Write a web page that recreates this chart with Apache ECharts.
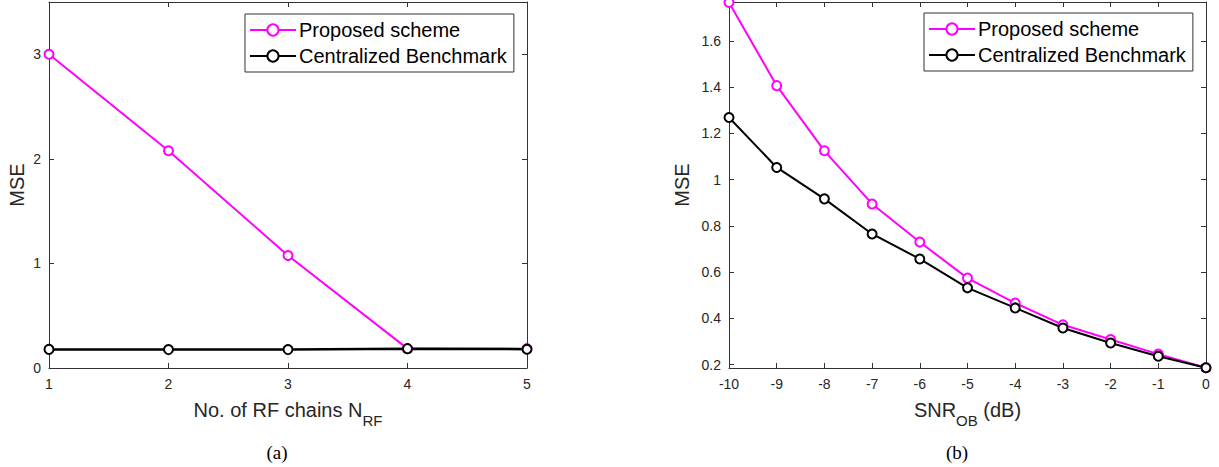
<!DOCTYPE html>
<html>
<head>
<meta charset="utf-8">
<script src="https://cdn.jsdelivr.net/npm/echarts@6/dist/echarts.min.js"></script>
<style>
  html, body { margin: 0; padding: 0; background: #fff; }
  #chart { width: 1219px; height: 467px; }
</style>
</head>
<body>
<div id="chart"></div>
<script>
// ---------- data ----------
const seriesNames = ['Proposed scheme', 'Centralized Benchmark'];

// (a) MSE vs number of RF chains
const rfChains = [1, 2, 3, 4, 5];
const proposedA = [3.0, 2.077, 1.075, 0.185, 0.183];
const benchmarkA = [0.178, 0.176, 0.176, 0.185, 0.180];
const yTicksA = [0, 1, 2, 3];

// (b) MSE vs SNR_OB (dB)
const snrOB = [-10, -9, -8, -7, -6, -5, -4, -3, -2, -1, 0];
const proposedB = [1.767, 1.407, 1.125, 0.895, 0.730, 0.574, 0.466, 0.372, 0.308, 0.245, 0.186];
const benchmarkB = [1.269, 1.053, 0.917, 0.765, 0.657, 0.532, 0.445, 0.358, 0.293, 0.236, 0.186];
const yTicksB = [0.2, 0.4, 0.6, 0.8, 1, 1.2, 1.4, 1.6];

// ---------- styling ----------
const FONT = "'Liberation Sans', Arial, sans-serif";
const AX = '#333333';
const TXT = '#262626';
const MAG = '#ff00ff';

function pairs(xs, ys) { return xs.map((x, i) => [x, ys[i]]); }

function bottomX(grid, min, max, name, rich, gap) {
  return {
    type: 'value', gridIndex: grid, position: 'bottom', min: min, max: max, interval: 1,
    splitLine: { show: false },
    axisLine: { show: true, onZero: false, lineStyle: { color: AX, width: 1 } },
    axisTick: { show: true, inside: true, length: 5, lineStyle: { color: AX } },
    axisLabel: { color: TXT, fontSize: 14, fontFamily: FONT, margin: 9 },
    name: name, nameLocation: 'middle', nameGap: gap,
    nameTextStyle: { color: TXT, fontFamily: FONT, rich: rich }
  };
}
function topX(grid, min, max) {
  return {
    type: 'value', gridIndex: grid, position: 'top', min: min, max: max, interval: 1,
    splitLine: { show: false },
    axisLine: { show: true, onZero: false, lineStyle: { color: AX, width: 1 } },
    axisTick: { show: true, inside: true, length: 5, lineStyle: { color: AX } },
    axisLabel: { show: false }
  };
}
function leftY(grid, min, max, ticks, gap) {
  return {
    type: 'value', gridIndex: grid, position: 'left', min: min, max: max,
    splitLine: { show: false },
    axisLine: { show: true, onZero: false, lineStyle: { color: AX, width: 1 } },
    axisTick: { show: true, inside: true, length: 5, customValues: ticks, lineStyle: { color: AX } },
    axisLabel: { color: TXT, fontSize: 14, fontFamily: FONT, margin: 8, customValues: ticks },
    name: 'MSE', nameLocation: 'middle', nameGap: gap, nameRotate: 90,
    nameTextStyle: { color: TXT, fontSize: 20, fontFamily: FONT }
  };
}
function rightY(grid, min, max, ticks) {
  return {
    type: 'value', gridIndex: grid, position: 'right', min: min, max: max,
    splitLine: { show: false },
    axisLine: { show: true, onZero: false, lineStyle: { color: AX, width: 1 } },
    axisTick: { show: true, inside: true, length: 5, customValues: ticks, lineStyle: { color: AX } },
    axisLabel: { show: false }
  };
}
function lineSeries(name, color, xi, yi, data, width) {
  return {
    name: name, type: 'line', xAxisIndex: xi, yAxisIndex: yi, data: data,
    symbol: 'circle', symbolSize: 9, showSymbol: true, clip: false,
    lineStyle: { color: color, width: width },
    itemStyle: { color: '#ffffff', borderColor: color, borderWidth: 2 },
    emphasis: { disabled: true },
    animation: false
  };
}
function legendAt(left, top) {
  return {
    data: seriesNames, orient: 'vertical', left: left, top: top,
    backgroundColor: '#ffffff', borderColor: AX, borderWidth: 1,
    padding: [6, 7, 6, 4], itemGap: 6, itemWidth: 46, itemHeight: 14,
    textStyle: { color: '#000', fontSize: 20, fontFamily: FONT, padding: [0, 0, 0, -2] },
    selectedMode: false
  };
}

const subRich = {
  n: { fontSize: 20, color: TXT, fontFamily: FONT },
  s: { fontSize: 15, color: TXT, fontFamily: FONT, padding: [22, 0, 0, 0] }
};

const chart = echarts.init(document.getElementById('chart'), null, { renderer: 'svg' });
chart.setOption({
  animation: false,
  backgroundColor: '#ffffff',
  grid: [
    { left: 49, top: 2, width: 478, height: 366 },
    { left: 729, top: 2, width: 477, height: 366 }
  ],
  xAxis: [
    bottomX(0, 1, 5, '{n|No. of RF chains N}{s|RF}', subRich, 23),
    topX(0, 1, 5),
    bottomX(1, -10, 0, '{n|SNR}{s|OB}{n| (dB)}', subRich, 23),
    topX(1, -10, 0)
  ],
  yAxis: [
    leftY(0, 0, 3.5, yTicksA, 22),
    rightY(0, 0, 3.5, yTicksA),
    leftY(1, 0.185, 1.769, yTicksB, 37),
    rightY(1, 0.185, 1.769, yTicksB)
  ],
  legend: [legendAt(245, 14), legendAt(924, 13)],
  series: [
    lineSeries(seriesNames[0], MAG, 0, 0, pairs(rfChains, proposedA), 2),
    lineSeries(seriesNames[1], '#000000', 0, 0, pairs(rfChains, benchmarkA), 2.5),
    lineSeries(seriesNames[0], MAG, 2, 2, pairs(snrOB, proposedB), 2),
    lineSeries(seriesNames[1], '#000000', 2, 2, pairs(snrOB, benchmarkB), 2)
  ],
  graphic: [
    { type: 'text', x: 277, y: 452, style: { text: '(a)', fill: '#000', font: "19px 'Liberation Serif', 'Times New Roman', serif", align: 'center', verticalAlign: 'middle' } },
    { type: 'text', x: 957, y: 452, style: { text: '(b)', fill: '#000', font: "19px 'Liberation Serif', 'Times New Roman', serif", align: 'center', verticalAlign: 'middle' } }
  ]
});
</script>
</body>
</html>
